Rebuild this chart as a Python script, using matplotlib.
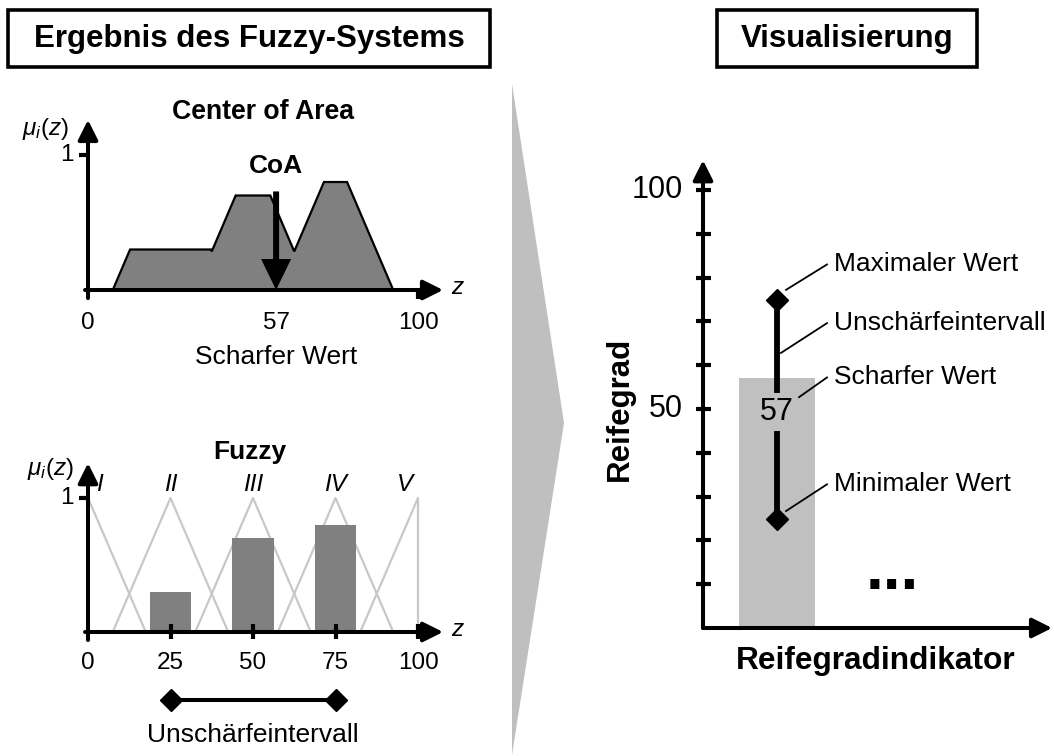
import numpy as np
import matplotlib
matplotlib.use("Agg")
import matplotlib.pyplot as plt
from matplotlib.patches import Polygon, Rectangle

plt.rcParams["font.family"] = ["Liberation Sans", "DejaVu Sans"]
plt.rcParams["mathtext.fontset"] = "custom"
plt.rcParams["mathtext.it"] = "Liberation Sans:italic"
plt.rcParams["mathtext.rm"] = "Liberation Sans"

# ---- data -------------------------------------------------------------
z_ticks = [0, 25, 50, 75, 100]
term_names = ["I", "II", "III", "IV", "V"]
term_centers = [0, 25, 50, 75, 100]
term_half_width = 17.5
term_degrees = [0.0, 0.3, 0.7, 0.8, 0.0]
term_bar_width = 12.5

crisp_value = 57
interval_min = 25
interval_max = 75

maturity_ticks = [10, 20, 30, 40, 50, 60, 70, 80, 90, 100]
maturity_tick_labels = {50: "50", 100: "100"}
indicator_pos = [1]
indicator_values = [crisp_value]

# ---- figure -----------------------------------------------------------
W, H = 1054, 756
fig = plt.figure(figsize=(W / 100, H / 100), dpi=100)
fig.patch.set_facecolor("white")

BLACK = "k"
AXIS_LW = 2.9


def panel(x0, x1, y_top, y_bottom, xlim, ylim):
    ax = fig.add_axes([x0 / W, 1 - y_bottom / H, (x1 - x0) / W, (y_bottom - y_top) / H])
    ax.set_xlim(*xlim)
    ax.set_ylim(*ylim)
    ax.set_axis_off()
    return ax


def axis_arrow(ax, start, end, lw=AXIS_LW):
    ax.annotate("", xy=end, xytext=start,
                arrowprops=dict(arrowstyle="-|>,head_length=0.6,head_width=0.3",
                                lw=lw, color=BLACK, shrinkA=0, shrinkB=0,
                                mutation_scale=20),
                annotation_clip=False)


def hseg(ax, x0, x1, y, lw=AXIS_LW, **kw):
    ax.plot([x0, x1], [y, y], color=BLACK, lw=lw, solid_capstyle="butt", clip_on=False, **kw)


def vseg(ax, x, y0, y1, lw=AXIS_LW, **kw):
    ax.plot([x, x], [y0, y1], color=BLACK, lw=lw, solid_capstyle="butt", clip_on=False, **kw)


# ---- headline boxes ---------------------------------------------------
for (bx0, bx1), title in [((8, 490), "Ergebnis des Fuzzy-Systems"),
                          ((717, 977), "Visualisierung")]:
    fig.add_artist(Rectangle((bx0 / W, 1 - 67 / H), (bx1 - bx0) / W, 57 / H,
                             transform=fig.transFigure, fill=False,
                             edgecolor=BLACK, lw=2.6))
    fig.text((bx0 + bx1) / 2 / W, 1 - 39 / H, title, ha="center", va="center",
             fontsize=22.5, fontweight="bold")

# transition chevron between the two halves
chevron = np.array([[512, 84], [564, 423], [512, 755]], dtype=float)
fig.add_artist(Polygon(np.column_stack([chevron[:, 0] / W, 1 - chevron[:, 1] / H]),
                       closed=True, transform=fig.transFigure,
                       facecolor="#bfbfbf", edgecolor="none"))

# ---- top left: defuzzified output (Center of Area) ----------------------
ax1 = panel(88, 418, 155, 290, (0, 100), (0, 1))

zz = np.linspace(0, 100, 4001)


def triangle(c):
    return np.clip(1 - np.abs(zz - c) / term_half_width, 0, None)


mu_out = np.max([np.minimum(d, triangle(c)) for c, d in zip(term_centers, term_degrees)], axis=0)
ax1.fill(zz, mu_out, facecolor="#808080", edgecolor=BLACK, lw=1.6, zorder=2,
         joinstyle="miter")

axis_arrow(ax1, (-0.9, 0), (107.6, 0))
axis_arrow(ax1, (0, -0.06), (0, 1.26))
hseg(ax1, -2.7, 0, 1, lw=3)
vseg(ax1, 100, 0, -0.07, lw=3)

ax1.arrow(crisp_value, 0.73, 0, -0.73, width=6 / 3.3, head_width=30 / 3.3,
          head_length=31 / 135, length_includes_head=True, color=BLACK, lw=0, zorder=4)

ax1.text(crisp_value, 0.92, "CoA", ha="center", va="center", fontsize=19, fontweight="bold")
ax1.text(53, 1.32, "Center of Area", ha="center", va="center", fontsize=19.2, fontweight="bold")
ax1.text(-13, 1.19, r"$\mu_i(z)$", ha="center", va="center", fontsize=17.5)
ax1.text(-4.5, 1.0, "1", ha="right", va="center", fontsize=17.5)
ax1.text(110, 0.02, "z", ha="left", va="center", fontsize=17.5, style="italic")
for v in [0, crisp_value, 100]:
    ax1.text(v, -0.245, str(v), ha="center", va="center", fontsize=17.5)
ax1.text(crisp_value, -0.5, "Scharfer Wert", ha="center", va="center", fontsize=19)

# ---- bottom left: fuzzy output terms ------------------------------------
ax2 = panel(88, 418, 498, 632, (0, 100), (0, 1))

for c in term_centers:
    xs = [max(c - term_half_width, 0), c, min(c + term_half_width, 100)]
    ax2.plot(xs, [0, 1, 0], color="#c8c8c8", lw=1.6, zorder=1, clip_on=False)
ax2.bar(term_centers, term_degrees, width=term_bar_width, color="#808080", zorder=2)

axis_arrow(ax2, (-0.9, 0), (107.6, 0))
axis_arrow(ax2, (0, -0.06), (0, 1.26))
hseg(ax2, -2.7, 0, 1, lw=3)
for t in z_ticks[1:]:
    vseg(ax2, t, 0.06, -0.05, lw=3)

ax2.text(49, 1.34, "Fuzzy", ha="center", va="center", fontsize=19, fontweight="bold")
ax2.text(-11.3, 1.22, r"$\mu_i(z)$", ha="center", va="center", fontsize=17.5)
ax2.text(-4.5, 1.0, "1", ha="right", va="center", fontsize=17.5)
ax2.text(110, 0.02, "z", ha="left", va="center", fontsize=17.5, style="italic")
for name, c in zip(term_names, np.clip(term_centers, 3.5, 96)):
    ax2.text(c, 1.10, name, ha="center", va="center", fontsize=17.5, style="italic")
for t in z_ticks:
    ax2.text(t, -0.23, str(t), ha="center", va="center", fontsize=17.5)

ax2.plot([interval_min, interval_max], [-0.507, -0.507], color=BLACK, lw=2.9,
         marker="D", ms=11, clip_on=False)
ax2.text((interval_min + interval_max) / 2, -0.77, "Unschärfeintervall",
         ha="center", va="center", fontsize=19)

# ---- right: maturity visualisation ------------------------------------
ax3 = panel(703, 1054, 190, 628, (0.22, 3.92), (0, 100))

ax3.bar(indicator_pos, indicator_values, width=0.8, color="#c0c0c0", zorder=1)

axis_arrow(ax3, (0.22, 0), (3.90, 0))
axis_arrow(ax3, (0.22, 0), (0.22, 106.8))
for t in maturity_ticks:
    hseg(ax3, 0.22 - 0.075, 0.22 + 0.085, t, lw=3)
    if t in maturity_tick_labels:
        ax3.text(0.01, t, maturity_tick_labels[t], ha="right", va="center", fontsize=22)

x_ind = indicator_pos[0]
ax3.plot([x_ind, x_ind], [interval_min, interval_max], color=BLACK, lw=4.2, zorder=2)
ax3.plot([x_ind, x_ind], [interval_min, interval_max], "D", color=BLACK, ms=11, zorder=3)
ax3.text(x_ind, 49.3, str(crisp_value), ha="center", va="center", fontsize=22, zorder=4,
         bbox=dict(facecolor="#c0c0c0", edgecolor="none", pad=3))

callouts = [
    ("Maximaler Wert", (x_ind + 0.095, interval_max + 2.2), 83.0),
    ("Unschärfeintervall", (x_ind + 0.042, 62.8), 69.6),
    ("Scharfer Wert", (x_ind + 0.232, 52.7), 57.2),
    ("Minimaler Wert", (x_ind + 0.095, interval_min + 1.7), 32.8),
]
for label, (px, py), ty in callouts:
    ax3.plot([px, 1.527], [py, ty], color=BLACK, lw=1.3, zorder=5)
    ax3.text(1.60, ty, label, ha="left", va="center", fontsize=19)

ax3.text(2.21, 8.9, "...", ha="center", va="baseline", fontsize=46, fontweight="bold")
ax3.text(-0.655, 50, "Reifegrad", rotation=90, ha="center", va="center",
         fontsize=22.5, fontweight="bold")
ax3.text(2.04, -7.5, "Reifegradindikator", ha="center", va="center",
         fontsize=22.8, fontweight="bold")

fig.savefig("out.png", dpi=100, facecolor="white")
